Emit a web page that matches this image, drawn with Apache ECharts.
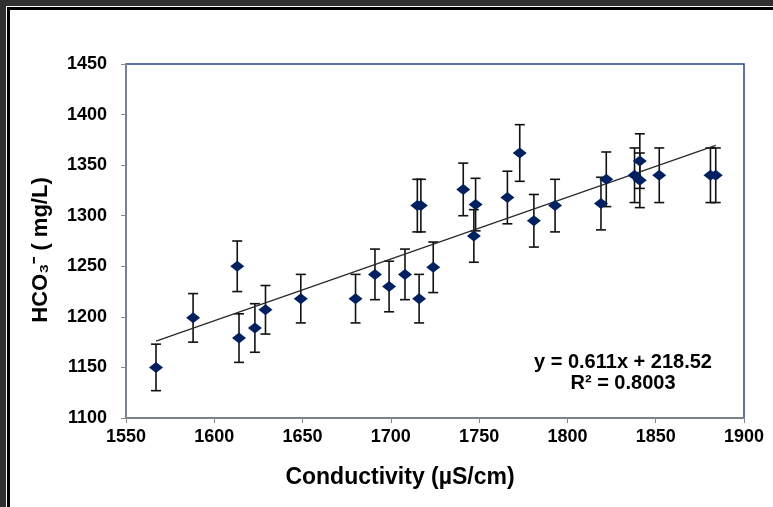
<!DOCTYPE html>
<html>
<head>
<meta charset="utf-8">
<script src="https://cdn.jsdelivr.net/npm/echarts@6/dist/echarts.min.js"></script>
<style>
body{margin:0;background:#2f2f2f;}
.f{position:absolute;}
#f1{left:6px;top:6px;right:0;bottom:0;background:#fff;}
#f2{left:7px;top:7px;right:0;bottom:0;background:#000;}
#f3{left:10px;top:10px;right:0;bottom:0;background:#fff;}
#main{position:absolute;left:0;top:0;width:773px;height:507px;}
</style>
</head>
<body>
<div class="f" id="f1"></div>
<div class="f" id="f2"></div>
<div class="f" id="f3"></div>
<div id="main"></div>
<script>
// 电导率 (µS/cm)
var conductivity = [1567, 1588, 1613, 1614, 1623, 1629, 1649, 1680, 1691, 1699, 1708, 1715, 1717, 1716, 1724,
                    1741, 1747, 1748, 1766, 1773, 1781, 1793, 1819, 1822, 1838, 1841, 1841, 1852, 1881, 1884];
// HCO3- (mg/L)
var hco3 = [1150, 1199, 1250, 1179, 1189, 1207, 1218, 1218, 1242, 1230, 1242, 1310, 1310, 1218, 1249,
            1326, 1280, 1311, 1318, 1362, 1295, 1310, 1312, 1336, 1340, 1354, 1335, 1340, 1340, 1340];
// 误差
var errors = [23, 24, 25, 24, 24, 24, 24, 24, 25, 25, 25, 26, 26, 24, 25,
              26, 26, 26, 26, 28, 26, 26, 26, 27, 27, 27, 27, 27, 27, 27];
var xTicks = [1550, 1600, 1650, 1700, 1750, 1800, 1850, 1900];
var yTicks = [1100, 1150, 1200, 1250, 1300, 1350, 1400, 1450];
var slope = 0.611, intercept = 218.52;
var eqText = 'y = 0.611x + 218.52';
var r2Text = 'R² = 0.8003';

var font = "'Liberation Sans', Arial, sans-serif";

var points = [], bars = [];
for (var i = 0; i < conductivity.length; i++) {
    points.push([conductivity[i], hco3[i]]);
    bars.push([conductivity[i], hco3[i] - errors[i], hco3[i] + errors[i]]);
}
var xmin = Math.min.apply(null, conductivity), xmax = Math.max.apply(null, conductivity);
var trend = [[xmin, slope * xmin + intercept], [xmax, slope * xmax + intercept]];

var myChart = echarts.init(document.getElementById('main'));
var option = {
    backgroundColor: 'transparent',
    animation: false,
    grid: {
        left: 126, top: 64, right: 29, bottom: 89,
        show: true, borderColor: '#24458c', borderWidth: 1.5, backgroundColor: 'transparent'
    },
    xAxis: {
        type: 'value', min: xTicks[0], max: xTicks[xTicks.length - 1], interval: 50,
        axisLine: {lineStyle: {color: '#888', width: 1.5}},
        axisTick: {show: true, inside: false, length: 5, lineStyle: {color: '#888'}},
        axisLabel: {margin: 10, fontFamily: font, fontWeight: 'bold', fontSize: 18, color: '#000',
            formatter: function (v) { return String(v); }},
        splitLine: {show: false}
    },
    yAxis: {
        type: 'value', min: yTicks[0], max: yTicks[yTicks.length - 1], interval: 50,
        axisLine: {show: true, lineStyle: {color: '#888', width: 1.5}},
        axisTick: {show: true, inside: false, length: 5, lineStyle: {color: '#888'}},
        axisLabel: {margin: 19, fontFamily: font, fontWeight: 'bold', fontSize: 18, color: '#000',
            formatter: function (v) { return String(v); }},
        splitLine: {show: false}
    },
    series: [
        {
            type: 'custom', z: 2,
            data: bars,
            renderItem: function (params, api) {
                var top = api.coord([api.value(0), api.value(2)]);
                var bot = api.coord([api.value(0), api.value(1)]);
                var st = {stroke: '#111', lineWidth: 1.6};
                return {
                    type: 'group',
                    children: [
                        {type: 'line', shape: {x1: top[0], y1: top[1], x2: bot[0], y2: bot[1]}, style: st},
                        {type: 'line', shape: {x1: top[0] - 5, y1: top[1], x2: top[0] + 5, y2: top[1]}, style: st},
                        {type: 'line', shape: {x1: bot[0] - 5, y1: bot[1], x2: bot[0] + 5, y2: bot[1]}, style: st}
                    ]
                };
            }
        },
        {
            type: 'line', z: 3, data: trend, symbol: 'none',
            lineStyle: {color: '#2a2a2a', width: 1.3}
        },
        {
            type: 'scatter', z: 4, data: points,
            symbol: 'diamond', symbolSize: [14, 11],
            itemStyle: {color: '#002060', opacity: 1}
        }
    ],
    graphic: [
        {type: 'text', x: 623, y: 362, style: {text: eqText, font: 'bold 20px ' + font, fill: '#000',
            align: 'center', verticalAlign: 'middle'}},
        {type: 'text', x: 623, y: 383, style: {text: r2Text, font: 'bold 20px ' + font, fill: '#000',
            align: 'center', verticalAlign: 'middle'}},
        {type: 'text', x: 400, y: 478, style: {text: 'Conductivity (µS/cm)', font: 'bold 23px ' + font, fill: '#000',
            align: 'center', verticalAlign: 'middle'}},
        {type: 'text', x: 41, y: 250, rotation: Math.PI / 2, style: {text: 'HCO₃⁻ ( mg/L)', font: 'bold 22px ' + font, fill: '#000',
            align: 'center', verticalAlign: 'middle'}}
    ]
};
myChart.setOption(option);
</script>
</body>
</html>
